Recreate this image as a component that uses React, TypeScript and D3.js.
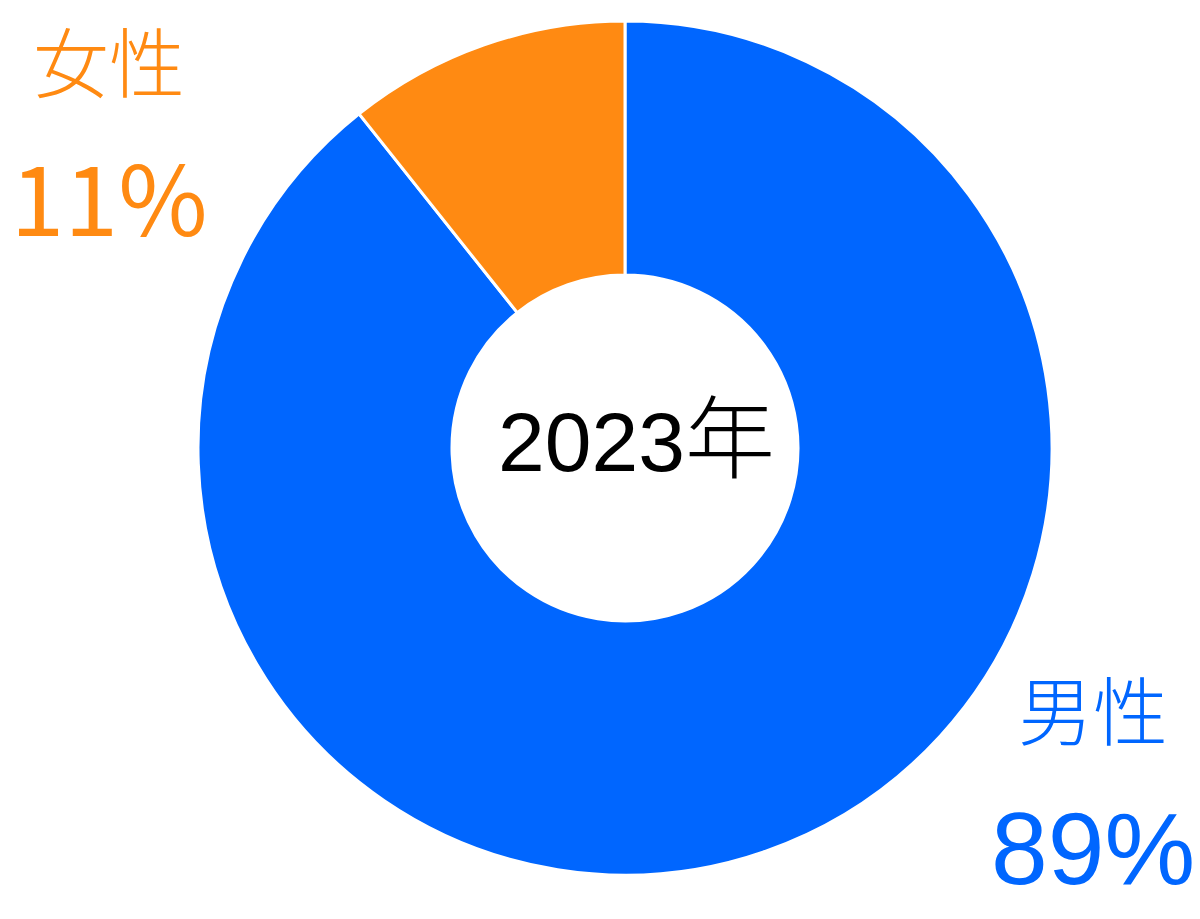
import React, { useEffect, useRef } from 'react';
import * as d3 from 'd3';

// share of members by gender, 2023
const categories = ['男性', '女性'];
const shares = [89.3, 10.7];
const shareLabels = ['89%', '11%'];
const colors = ['#0066FF', '#FF8A12'];
const yearLabel = '2023';
const yearSuffix = '年';

const WIDTH = 1200;
const HEIGHT = 919;

export default function App() {
  const ref = useRef<SVGSVGElement | null>(null);

  useEffect(() => {
    if (!ref.current) return;
    const svg = d3.select(ref.current);
    svg.selectAll('*').remove();

    const cx = 625;
    const cy = 448;
    const outerR = 427;
    const innerR = 173;

    // first slice (male) runs clockwise from 12 o'clock, female fills the rest
    const arcs = d3.pie<number>().sort(null).value(d => d)(shares);

    const arc = d3.arc<d3.PieArcDatum<number>>()
      .innerRadius(innerR)
      .outerRadius(outerR);

    const g = svg.append('g').attr('transform', `translate(${cx},${cy})`);
    g.selectAll('path')
      .data(arcs)
      .enter()
      .append('path')
      .attr('d', d => arc(d) as string)
      .attr('fill', (_, i) => colors[i])
      .attr('stroke', '#fff')
      .attr('stroke-width', 3)
      .attr('stroke-linejoin', 'round');

    const sans = '"Liberation Sans", Arial, sans-serif';
    const cjk = '"Noto Sans CJK JP", "Noto Sans CJK SC", sans-serif';

    const center = g.append('text')
      .attr('x', -127)
      .attr('y', 23)
      .attr('font-family', sans)
      .attr('font-size', 84)
      .attr('fill', '#000');
    center.append('tspan').text(yearLabel);
    center.append('tspan')
      .attr('font-family', cjk)
      .attr('font-weight', 300)
      .attr('font-size', 90)
      .text(yearSuffix);

    // corner labels: male bottom-right, female top-left
    const labelPos = [
      { x: 1093, nameY: 740, nameSize: 75, pctY: 884, pctSize: 102, pctFont: sans },
      { x: 109, nameY: 92, nameSize: 76, pctY: 236, pctSize: 97, pctFont: cjk },
    ];
    categories.forEach((c, i) => {
      const p = labelPos[i];
      svg.append('text')
        .attr('x', p.x)
        .attr('y', p.nameY)
        .attr('text-anchor', 'middle')
        .attr('font-family', cjk)
        .attr('font-weight', 300)
        .attr('font-size', p.nameSize)
        .attr('fill', colors[i])
        .text(c);
      svg.append('text')
        .attr('x', p.x)
        .attr('y', p.pctY)
        .attr('text-anchor', 'middle')
        .attr('font-family', p.pctFont)
        .attr('font-size', p.pctSize)
        .attr('fill', colors[i])
        .text(shareLabels[i]);
    });
  }, []);

  return (
    <svg
      ref={ref}
      width={WIDTH}
      height={HEIGHT}
      style={{ position: 'absolute', left: 0, top: 0, display: 'block', background: '#fff' }}
    />
  );
}
